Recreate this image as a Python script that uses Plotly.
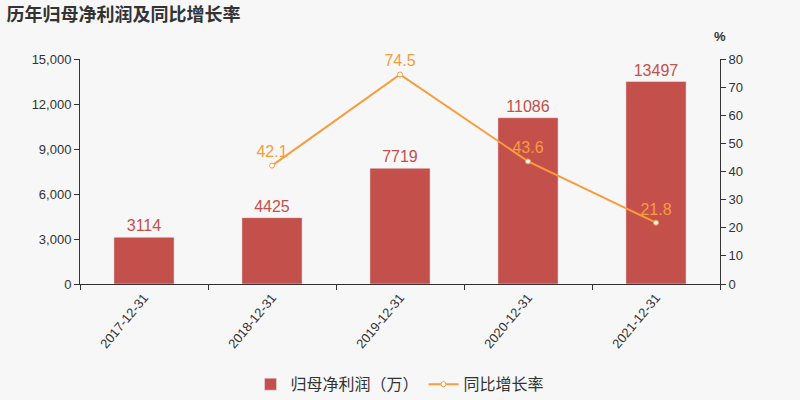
import plotly.graph_objects as go

categories = ["2017-12-31", "2018-12-31", "2019-12-31", "2020-12-31", "2021-12-31"]
profit = [3114, 4425, 7719, 11086, 13497]
growth_x = ["2018-12-31", "2019-12-31", "2020-12-31", "2021-12-31"]
growth = [42.1, 74.5, 43.6, 21.8]

bar_color = "#c4504c"
line_color = "#f89c3c"
font_fam = "'Liberation Sans', 'Noto Sans CJK SC', sans-serif"

fig = go.Figure()
fig.add_trace(go.Bar(
    x=categories, y=profit, name="归母净利润（万）",
    marker=dict(color=bar_color),
    text=[str(v) for v in profit], textposition="outside",
    textfont=dict(color=bar_color, size=16),
    cliponaxis=False,
))
fig.add_trace(go.Scatter(
    x=growth_x, y=growth, name="同比增长率", yaxis="y2",
    mode="lines+markers+text",
    line=dict(color=line_color, width=2),
    marker=dict(symbol="circle", size=5, color="#ffffff", line=dict(color=line_color, width=1)),
    text=[str(v) for v in growth], textposition="top center",
    textfont=dict(color=line_color, size=16),
    cliponaxis=False,
))

fig.update_layout(
    width=800, height=400,
    paper_bgcolor="#f7f7f7", plot_bgcolor="#f7f7f7",
    margin=dict(l=80, r=80, t=59, b=116, autoexpand=False),
    font=dict(family=font_fam, color="#333333", size=12),
    title=dict(text="<b>历年归母净利润及同比增长率</b>", x=0.008, xanchor="left", y=0.978, yanchor="top",
               font=dict(size=18, color="#333333")),
    bargap=0.53,
    showlegend=True,
    legend=dict(orientation="h", x=0.5, xanchor="center", y=-0.37, yanchor="top",
                font=dict(size=16, color="#333333")),
    xaxis=dict(type="category", showline=True, linecolor="#333333", linewidth=1,
               ticks="outside", tickson="boundaries", ticklen=5, tickcolor="#333333",
               tickangle=-50, tickfont=dict(size=13, color="#333333"), showgrid=False,
               automargin=False),
    yaxis=dict(range=[0, 15000], tickvals=[0, 3000, 6000, 9000, 12000, 15000],
               tickformat=",", showline=True, linecolor="#333333", ticks="outside",
               ticklen=5, tickcolor="#333333", showgrid=False, zeroline=False,
               tickfont=dict(size=13, color="#333333"), automargin=False),
    yaxis2=dict(range=[0, 80], dtick=10, overlaying="y", side="right",
                showline=True, linecolor="#333333", ticks="outside", ticklen=5,
                tickcolor="#333333", showgrid=False, zeroline=False,
                tickfont=dict(size=13, color="#333333"), automargin=False),
    annotations=[dict(text="<b>%</b>", x=1.0, xref="paper", y=1.1, yref="paper",
                      showarrow=False, xanchor="center", yanchor="middle",
                      font=dict(size=13, color="#333333"))],
)

fig.write_html("out.html")
